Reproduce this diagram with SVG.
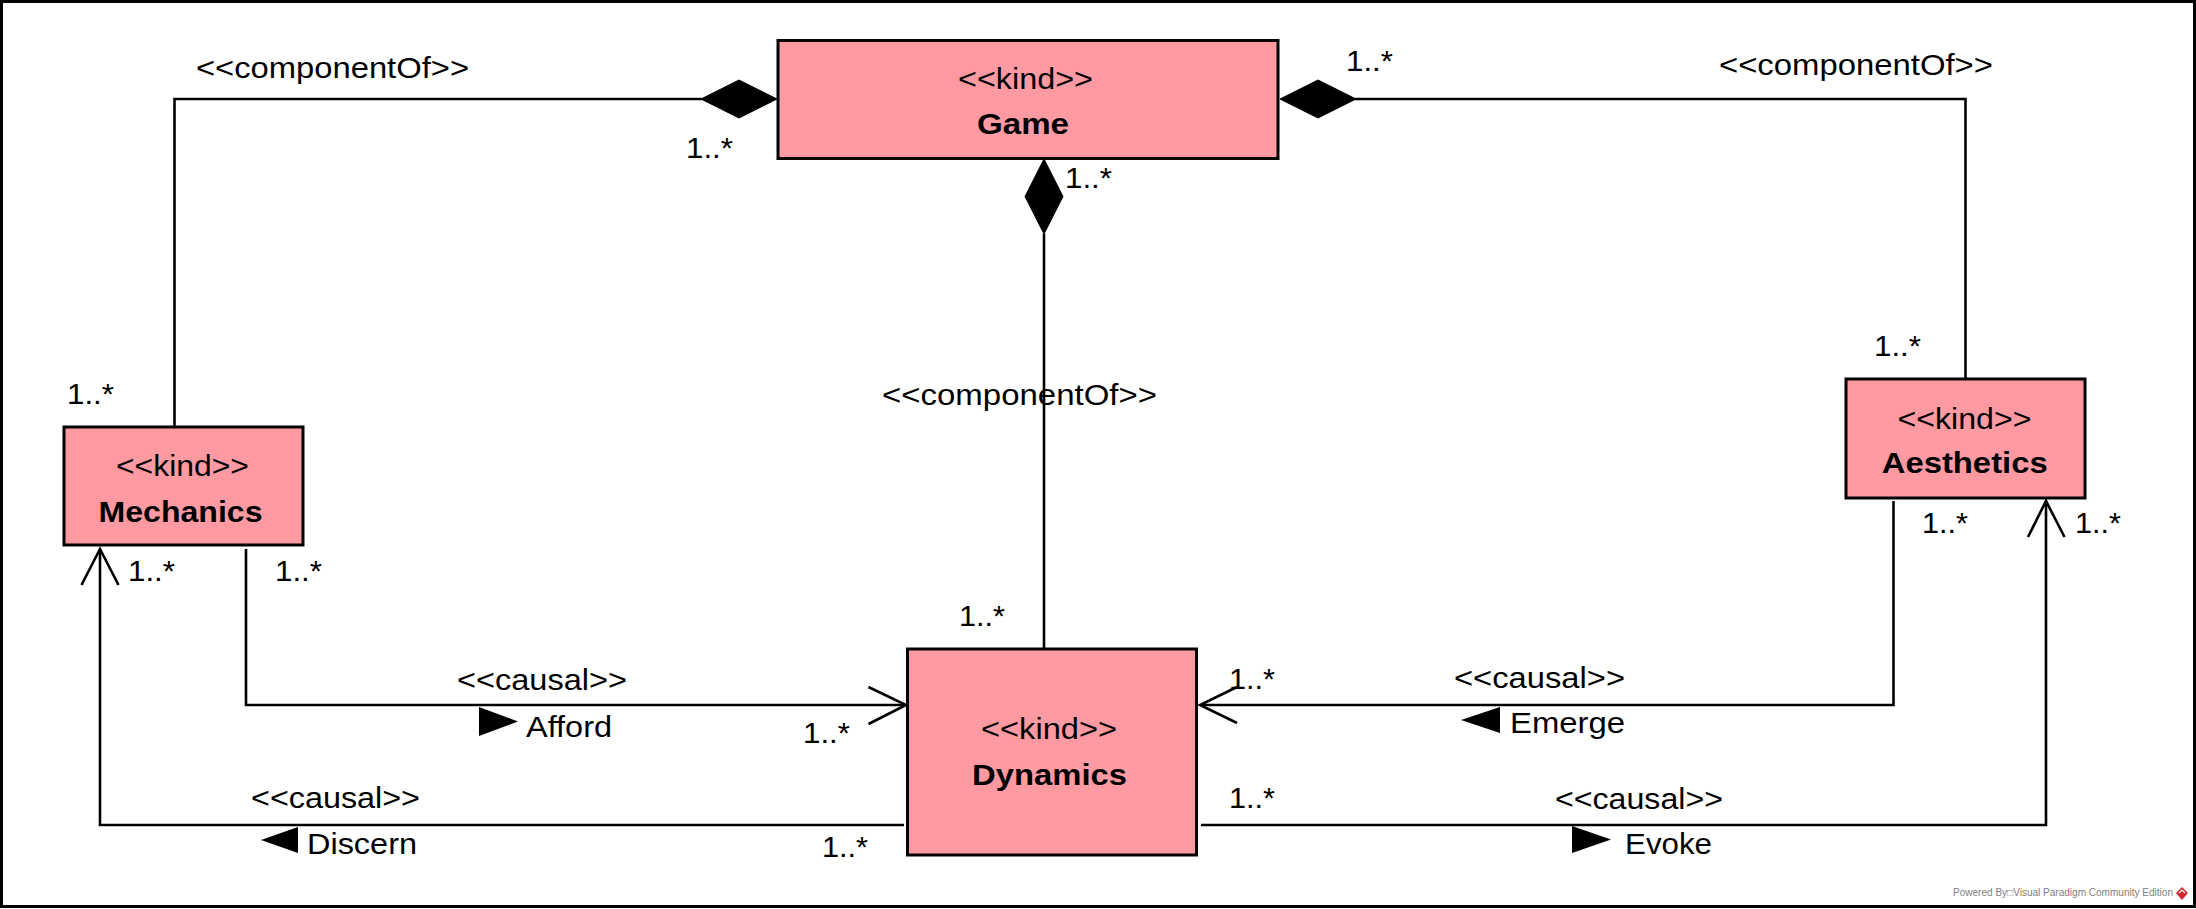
<svg xmlns="http://www.w3.org/2000/svg" width="2196" height="909" viewBox="0 0 2196 909">
<style>
text{font-family:"Liberation Sans",Arial,sans-serif;fill:#000}
.lbl{font-size:29px}
.st{font-size:29px;text-anchor:middle}
.nm{font-size:29px;font-weight:bold;text-anchor:middle}
.box{fill:#FF9AA3;stroke:#000;stroke-width:3}
.ln{fill:none;stroke:#000;stroke-width:2.6}
.dia{fill:#000;stroke:#000;stroke-width:1}
.tri{fill:#000}
.wm{font-size:10px;fill:#808080}
</style>
<rect x="1.5" y="1.5" width="2193" height="905" fill="#fff" stroke="#000" stroke-width="3"/>

<g id="connectors">
  <g id="game-mechanics">
    <path class="ln" d="M174.5,427 V99 H702"/>
    <polygon class="dia" points="701,99 739,80 777,99 739,118"/>
    <text class="lbl" x="196" y="78" textLength="273" lengthAdjust="spacingAndGlyphs">&lt;&lt;componentOf&gt;&gt;</text>
    <text class="lbl" x="686" y="158" textLength="47" lengthAdjust="spacingAndGlyphs">1..*</text>
    <text class="lbl" x="67" y="404" textLength="47" lengthAdjust="spacingAndGlyphs">1..*</text>
  </g>
  <g id="game-aesthetics">
    <path class="ln" d="M1355,99 H1965.5 V379"/>
    <polygon class="dia" points="1280,99 1318,80 1356,99 1318,118"/>
    <text class="lbl" x="1719" y="75" textLength="274" lengthAdjust="spacingAndGlyphs">&lt;&lt;componentOf&gt;&gt;</text>
    <text class="lbl" x="1346" y="71" textLength="47" lengthAdjust="spacingAndGlyphs">1..*</text>
    <text class="lbl" x="1874" y="356" textLength="47" lengthAdjust="spacingAndGlyphs">1..*</text>
  </g>
  <g id="game-dynamics">
    <path class="ln" d="M1044,234 V648"/>
    <polygon class="dia" points="1044,159 1063,196.5 1044,234 1025,196.5"/>
    <text class="lbl" x="882" y="405" textLength="275" lengthAdjust="spacingAndGlyphs">&lt;&lt;componentOf&gt;&gt;</text>
    <text class="lbl" x="1065" y="188" textLength="47" lengthAdjust="spacingAndGlyphs">1..*</text>
    <text class="lbl" x="959" y="626" textLength="46" lengthAdjust="spacingAndGlyphs">1..*</text>
  </g>
  <g id="afford">
    <path class="ln" d="M246,549 V705 H905"/>
    <path class="ln" d="M868.5,687 L906,705 L868.5,724"/>
    <polygon class="tri" points="479,707 518,721.5 479,736"/>
    <text class="lbl" x="457" y="690" textLength="170" lengthAdjust="spacingAndGlyphs">&lt;&lt;causal&gt;&gt;</text>
    <text class="lbl" x="526" y="737" textLength="86" lengthAdjust="spacingAndGlyphs">Afford</text>
    <text class="lbl" x="275" y="581" textLength="47" lengthAdjust="spacingAndGlyphs">1..*</text>
    <text class="lbl" x="803" y="743" textLength="47" lengthAdjust="spacingAndGlyphs">1..*</text>
  </g>
  <g id="discern">
    <path class="ln" d="M904,825 H100 V550"/>
    <path class="ln" d="M81.5,585 L100,549 L118.5,585"/>
    <polygon class="tri" points="298,827 261,840 298,853"/>
    <text class="lbl" x="251" y="808" textLength="169" lengthAdjust="spacingAndGlyphs">&lt;&lt;causal&gt;&gt;</text>
    <text class="lbl" x="307" y="854" textLength="110" lengthAdjust="spacingAndGlyphs">Discern</text>
    <text class="lbl" x="128" y="581" textLength="47" lengthAdjust="spacingAndGlyphs">1..*</text>
    <text class="lbl" x="822" y="857" textLength="46" lengthAdjust="spacingAndGlyphs">1..*</text>
  </g>
  <g id="emerge">
    <path class="ln" d="M1893.5,501 V705 H1201"/>
    <path class="ln" d="M1237,687 L1200,705 L1237,723"/>
    <polygon class="tri" points="1500,707 1461,720 1500,733"/>
    <text class="lbl" x="1454" y="688" textLength="171" lengthAdjust="spacingAndGlyphs">&lt;&lt;causal&gt;&gt;</text>
    <text class="lbl" x="1510" y="733" textLength="115" lengthAdjust="spacingAndGlyphs">Emerge</text>
    <text class="lbl" x="1922" y="533" textLength="46" lengthAdjust="spacingAndGlyphs">1..*</text>
    <text class="lbl" x="1229" y="689" textLength="46" lengthAdjust="spacingAndGlyphs">1..*</text>
  </g>
  <g id="evoke">
    <path class="ln" d="M1201,825 H2046 V502"/>
    <path class="ln" d="M2028,537 L2046,501 L2064.5,537"/>
    <polygon class="tri" points="1572,826 1611,839.5 1572,853"/>
    <text class="lbl" x="1555" y="809" textLength="168" lengthAdjust="spacingAndGlyphs">&lt;&lt;causal&gt;&gt;</text>
    <text class="lbl" x="1625" y="854" textLength="87" lengthAdjust="spacingAndGlyphs">Evoke</text>
    <text class="lbl" x="1229" y="808" textLength="46" lengthAdjust="spacingAndGlyphs">1..*</text>
    <text class="lbl" x="2075" y="533" textLength="46" lengthAdjust="spacingAndGlyphs">1..*</text>
  </g>
</g>

<g id="game">
  <rect class="box" x="778" y="40.5" width="500" height="118"/>
  <text class="st" x="1025.5" y="89" textLength="135" lengthAdjust="spacingAndGlyphs">&lt;&lt;kind&gt;&gt;</text>
  <text class="nm" x="1023" y="134" textLength="92" lengthAdjust="spacingAndGlyphs">Game</text>
</g>
<g id="mechanics">
  <rect class="box" x="64" y="427" width="239" height="118"/>
  <text class="st" x="182.5" y="476" textLength="133" lengthAdjust="spacingAndGlyphs">&lt;&lt;kind&gt;&gt;</text>
  <text class="nm" x="180.5" y="521.5" textLength="164" lengthAdjust="spacingAndGlyphs">Mechanics</text>
</g>
<g id="aesthetics">
  <rect class="box" x="1846" y="379" width="239" height="119"/>
  <text class="st" x="1964.5" y="429" textLength="134" lengthAdjust="spacingAndGlyphs">&lt;&lt;kind&gt;&gt;</text>
  <text class="nm" x="1964.7" y="473.3" textLength="166" lengthAdjust="spacingAndGlyphs">Aesthetics</text>
</g>
<g id="dynamics">
  <rect class="box" x="907.5" y="649" width="289" height="206"/>
  <text class="st" x="1049" y="739" textLength="136" lengthAdjust="spacingAndGlyphs">&lt;&lt;kind&gt;&gt;</text>
  <text class="nm" x="1049.5" y="785" textLength="155" lengthAdjust="spacingAndGlyphs">Dynamics</text>
</g>

<g id="watermark">
  <text class="wm" x="1953" y="896" textLength="220" lengthAdjust="spacingAndGlyphs">Powered By□Visual Paradigm Community Edition</text>
  <polygon points="2182,887 2188,893 2182,900 2176,893" fill="#D7262E"/>
  <path d="M2179,893 L2182,890 L2185,893" fill="none" stroke="#fff" stroke-width="1.2"/>
</g>
</svg>
